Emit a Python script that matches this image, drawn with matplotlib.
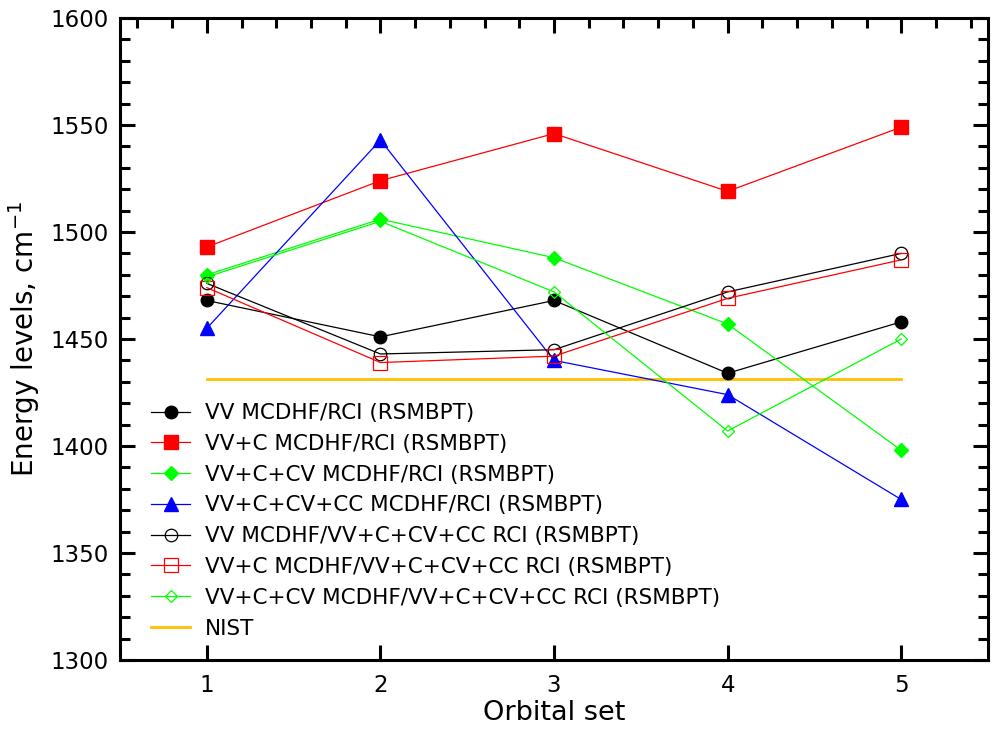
import matplotlib
matplotlib.use("Agg")
import matplotlib.pyplot as plt
from matplotlib.ticker import MultipleLocator

# ---- values ----
orbital_set = [1, 2, 3, 4, 5]

vv_rci = [1468, 1451, 1468, 1434, 1458]
vvc_rci = [1493, 1524, 1546, 1519, 1549]
vvccv_rci = [1480, 1506, 1488, 1457, 1398]
vvccvcc_rci = [1455, 1543, 1440, 1424, 1375]
vv_full = [1476, 1443, 1445, 1472, 1490]
vvc_full = [1474, 1439, 1442, 1469, 1487]
vvccv_full = [1479, 1505, 1472, 1407, 1450]
nist = [1431.5, 1431.5]
nist_x = [1, 5]

labels = [
    "VV MCDHF/RCI (RSMBPT)",
    "VV+C MCDHF/RCI (RSMBPT)",
    "VV+C+CV MCDHF/RCI (RSMBPT)",
    "VV+C+CV+CC MCDHF/RCI (RSMBPT)",
    "VV MCDHF/VV+C+CV+CC RCI (RSMBPT)",
    "VV+C MCDHF/VV+C+CV+CC RCI (RSMBPT)",
    "VV+C+CV MCDHF/VV+C+CV+CC RCI (RSMBPT)",
    "NIST",
]

plt.rcParams["font.family"] = ["DejaVu Sans"]

fig = plt.figure(figsize=(9.92, 7.36), dpi=100)
ax = fig.add_axes([0.121, 0.1033, 0.875, 0.8722])

lw = 0.9
ax.plot(orbital_set, vv_rci, color="black", lw=lw, marker="o", ms=9, label=labels[0], zorder=3)
ax.plot(orbital_set, vvc_rci, color="red", lw=lw, marker="s", ms=10, label=labels[1], zorder=3)
ax.plot(orbital_set, vvccv_rci, color="#00ff00", lw=lw, marker="D", ms=7, label=labels[2], zorder=3)
ax.plot(orbital_set, vvccvcc_rci, color="blue", lw=lw, marker="^", ms=10, label=labels[3], zorder=3)
ax.plot(orbital_set, vv_full, color="black", lw=lw, marker="o", ms=9, mfc="none", mew=0.9, label=labels[4], zorder=3)
ax.plot(orbital_set, vvc_full, color="red", lw=lw, marker="s", ms=10, mfc="none", mew=0.9, label=labels[5], zorder=3)
ax.plot(orbital_set, vvccv_full, color="#00ff00", lw=lw, marker="D", ms=6, mfc="none", mew=0.9, label=labels[6], zorder=3)
ax.plot(nist_x, nist, color="#ffc000", lw=2, label=labels[7], zorder=2)

ax.set_xlim(0.5, 5.5)
ax.set_ylim(1300, 1600)
ax.xaxis.set_major_locator(MultipleLocator(1))
ax.yaxis.set_major_locator(MultipleLocator(50))
ax.yaxis.set_minor_locator(MultipleLocator(10))
ax.xaxis.set_minor_locator(MultipleLocator(0.2))

for s in ax.spines.values():
    s.set_linewidth(2.2)

ax.tick_params(which="both", direction="in", top=True, right=True, width=2.2)
ax.tick_params(which="major", length=11, labelsize=16.5)
ax.tick_params(axis="y", which="major", pad=8)
ax.tick_params(axis="x", which="major", pad=10)
ax.tick_params(which="minor", length=7)
# bottom axis shows only the integer ticks
ax.tick_params(axis="x", which="minor", bottom=False)

ax.set_xlabel("Orbital set", fontsize=19.5, labelpad=2)
ax.set_ylabel("Energy levels, cm$^{-1}$", fontsize=20, labelpad=6)

ax.legend(loc="upper left", bbox_to_anchor=(0.036, 0.40), frameon=False,
          fontsize=15.5, borderpad=0, borderaxespad=0, labelspacing=0.5,
          handlelength=1.8, handletextpad=0.7)

fig.savefig("out.png", dpi=100)
